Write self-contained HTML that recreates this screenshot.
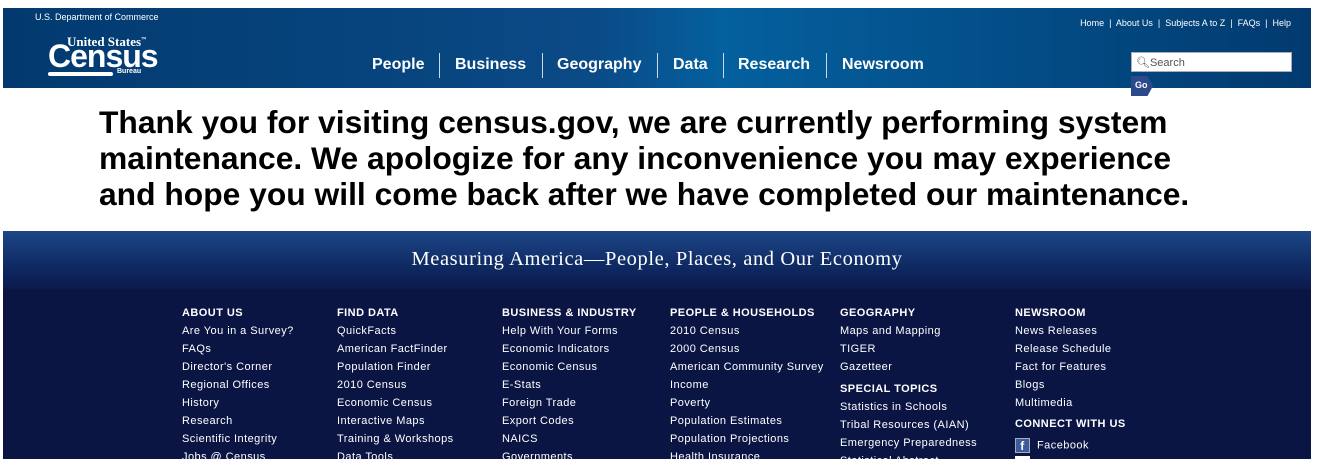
<!DOCTYPE html>
<html><head><meta charset="utf-8"><style>
*{margin:0;padding:0;box-sizing:border-box}
body{width:1319px;height:459px;overflow:hidden;background:#fff;font-family:"Liberation Sans",Arial,sans-serif;position:relative}
.hdr{position:absolute;left:3px;top:8px;width:1308px;height:80px;background:linear-gradient(90deg,#023a6f 0%,#0a4a86 45%,#04609e 55%,#023a6f 100%)}
.abs{position:absolute}
.nav a{position:absolute;top:48px;color:#fff;font-weight:bold;font-size:16px;text-decoration:none}
.sep{position:absolute;top:45px;width:1px;height:25px;background:#cfd8e6}
.util{position:absolute;top:10px;right:20px;color:#fff;font-size:9px}
.msg{position:absolute;left:99px;top:104px;font-size:31.8px;font-weight:bold;line-height:36px;color:#000;width:1210px;white-space:nowrap;letter-spacing:0px}
.ftr{position:absolute;left:3px;top:231px;width:1308px;height:228px;background:#0b1544}
.band{position:absolute;left:0;top:0;width:100%;height:58px;background:linear-gradient(180deg,#1d4687 0%,#0f2a63 60%,#0b1a4e 100%)}
.tag{position:absolute;left:0;width:100%;top:17px;text-align:center;color:#fff;font-family:"Liberation Serif",serif;font-size:20.5px;letter-spacing:.6px}
.col{position:absolute;top:75px;color:#fff;font-size:11px;letter-spacing:.45px}
.col div{height:18px;line-height:14px;white-space:nowrap}
.col .h{font-weight:bold}
</style></head><body>
<div class="hdr">
 <div class="abs" style="left:32px;top:4px;color:#fff;font-size:9px">U.S. Department of Commerce</div>
 <div class="abs" style="left:42px;top:26px;width:110px;height:45px;color:#fff">
  <div class="abs" style="left:22px;top:0;font-family:'Liberation Serif',serif;font-size:13px;font-weight:bold">United States<sup style="font-size:5px">™</sup></div>
  <div class="abs" style="left:3px;top:6px;font-size:32px;font-weight:bold;letter-spacing:-1px;line-height:32px">Census</div>
  <div class="abs" style="left:3px;top:38px;width:65px;height:4px;border-radius:2px;background:#fff"></div>
  <div class="abs" style="left:72px;top:34px;font-size:7px;font-weight:bold">Bureau</div>
 </div>
 <div class="nav">
  <a style="left:369px">People</a>
  <div class="sep" style="left:436px"></div>
  <a style="left:452px">Business</a>
  <div class="sep" style="left:539px"></div>
  <a style="left:554px">Geography</a>
  <div class="sep" style="left:654px"></div>
  <a style="left:670px">Data</a>
  <div class="sep" style="left:720px"></div>
  <a style="left:735px">Research</a>
  <div class="sep" style="left:823px"></div>
  <a style="left:839px">Newsroom</a>
 </div>
 <div class="util">Home &nbsp;|&nbsp; About Us &nbsp;|&nbsp; Subjects A to Z &nbsp;|&nbsp; FAQs &nbsp;|&nbsp; Help</div>
 <div class="abs" style="left:1128px;top:44px;width:161px;height:20px;background:#fff;border:1px solid #aab;font-size:11px;color:#555;padding:3px 0 0 4px">&#128269;&#xFE0E;Search</div>
</div>
<div class="abs" style="left:1131px;top:76px;width:22px;height:20px;background:#2c4a8a;color:#fff;font-size:9px;font-weight:bold;padding:4px 0 0 4px;clip-path:polygon(0 0,75% 0,100% 50%,75% 100%,0 100%)">Go</div>
<div class="msg">Thank you for visiting census.gov, we are currently performing system<br>maintenance. We apologize for any inconvenience you may experience<br>and hope you will come back after we have completed our maintenance.</div>
<div class="ftr">
 <div class="band"><div class="tag">Measuring America—People, Places, and Our Economy</div></div>
 <div class="col" style="left:179px"><div class="h">ABOUT US</div><div>Are You in a Survey?</div><div>FAQs</div><div>Director's Corner</div><div>Regional Offices</div><div>History</div><div>Research</div><div>Scientific Integrity</div><div>Jobs @ Census</div></div>
 <div class="col" style="left:334px"><div class="h">FIND DATA</div><div>QuickFacts</div><div>American FactFinder</div><div>Population Finder</div><div>2010 Census</div><div>Economic Census</div><div>Interactive Maps</div><div>Training &amp; Workshops</div><div>Data Tools</div></div>
 <div class="col" style="left:499px"><div class="h">BUSINESS &amp; INDUSTRY</div><div>Help With Your Forms</div><div>Economic Indicators</div><div>Economic Census</div><div>E-Stats</div><div>Foreign Trade</div><div>Export Codes</div><div>NAICS</div><div>Governments</div></div>
 <div class="col" style="left:667px"><div class="h">PEOPLE &amp; HOUSEHOLDS</div><div>2010 Census</div><div>2000 Census</div><div>American Community Survey</div><div>Income</div><div>Poverty</div><div>Population Estimates</div><div>Population Projections</div><div>Health Insurance</div></div>
 <div class="col" style="left:837px"><div class="h">GEOGRAPHY</div><div>Maps and Mapping</div><div>TIGER</div><div>Gazetteer</div><div class="h" style="margin-top:4px">SPECIAL TOPICS</div><div>Statistics in Schools</div><div>Tribal Resources (AIAN)</div><div>Emergency Preparedness</div><div>Statistical Abstract</div></div>
 <div class="col" style="left:1012px"><div class="h">NEWSROOM</div><div>News Releases</div><div>Release Schedule</div><div>Fact for Features</div><div>Blogs</div><div>Multimedia</div><div class="h" style="margin-top:3px">CONNECT WITH US</div><div style="margin-top:3px"><span style="display:inline-block;width:15px;height:15px;background:#3b5b9a;border:1px solid #aab;vertical-align:middle;text-align:center;font-weight:bold;font-size:12px;line-height:14px">f</span>&nbsp; Facebook</div><div><span style="display:inline-block;width:15px;height:15px;background:#fff"></span></div></div>
</div>
</body></html>
